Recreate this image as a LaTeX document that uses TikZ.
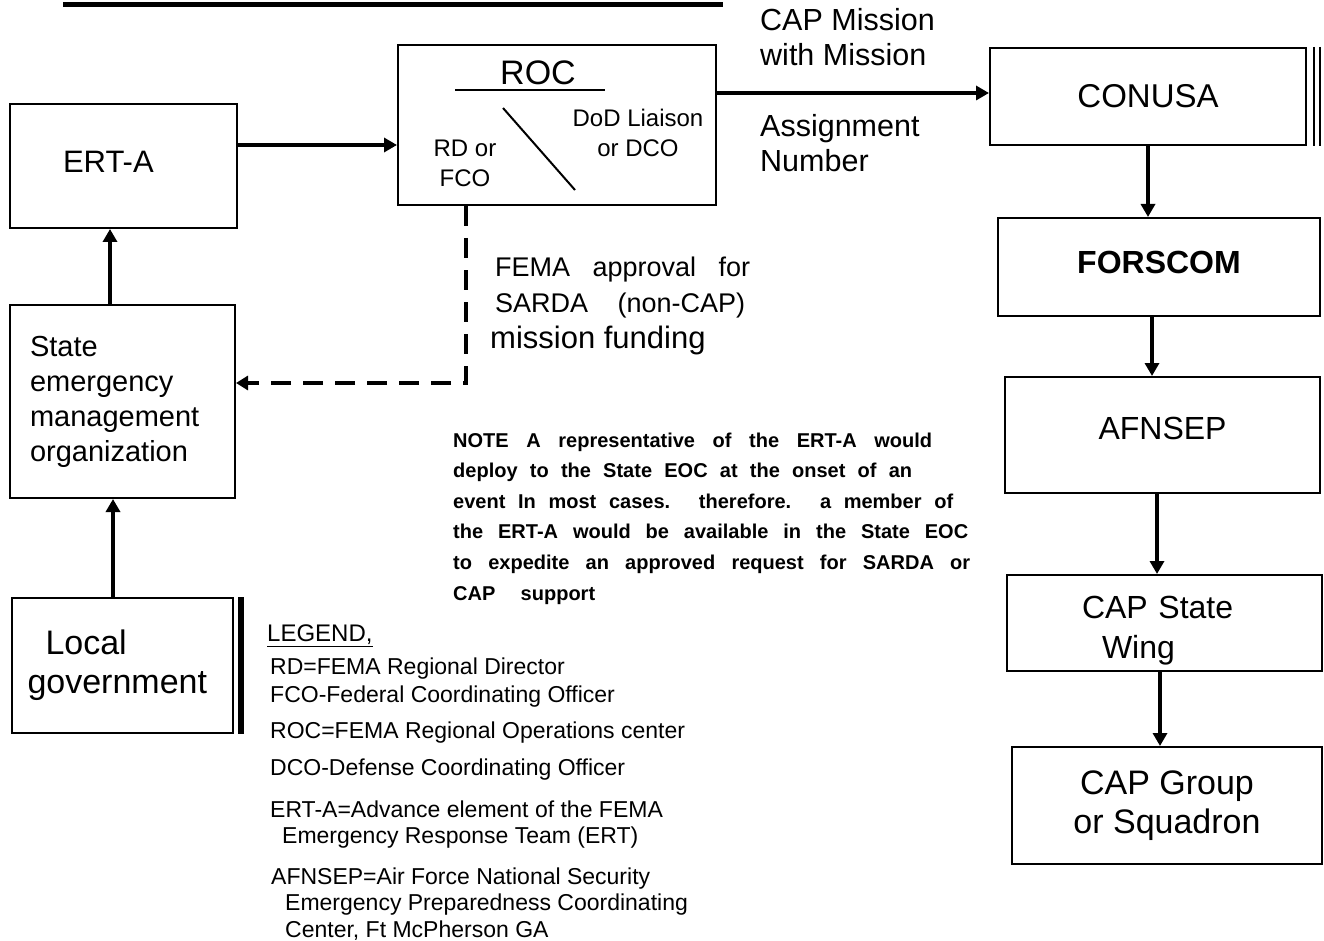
\documentclass[tikz,border=0pt]{standalone}
\usepackage{fontspec}
\setmainfont{Liberation Sans}
\usetikzlibrary{arrows.meta}

\newcommand{\setfs}[2]{\fontsize{#1}{#2}\selectfont}
\newcommand{\wideline}[2]{\makebox[#1][s]{#2}}

\tikzset{
  box/.style={draw, line width=2pt, inner sep=0pt, align=center},
  arr/.style={line width=4pt, -{Triangle[length=13pt,width=14pt]}},
  dasharr/.style={line width=3.5pt, dash pattern=on 20pt off 12pt, -{Triangle[length=12pt,width=14pt]}},
  lbl/.style={inner sep=0pt, align=left, anchor=west},
}

\begin{document}
\begin{tikzpicture}[x=1pt,y=-1pt]
  \useasboundingbox (0,0) rectangle (1324,941);

  % Top rule
  \draw[line width=5pt] (63,5) -- (723,5);

  % Left column
  \node[box, minimum width=227pt, minimum height=124pt, align=left, text width=121pt, text depth=8pt, font=\setfs{31}{37}] (erta) at (123.5,166) {ERT-A};
  \node[box, minimum width=225pt, minimum height=193pt, align=left, text width=185pt, font=\setfs{29}{35}] (state) at (122.5,401.5) {State\\emergency\\management\\organization};
  \node[box, minimum width=221pt, minimum height=135pt, align=left, text width=190pt, font=\setfs{34}{39}] (local) at (122.5,665.5) {\hspace*{18pt}Local\\government};
  \draw[line width=6pt] ([xshift=7pt]local.north east) -- ([xshift=7pt]local.south east);

  % ROC
  \node[box, minimum width=318pt, minimum height=160pt] (roc) at (557,125) {};
  \node[inner sep=0pt, font=\setfs{34}{40}] (roctitle) at (538,73) {ROC};
  \draw[line width=2pt] (455,90) -- (605,90);
  \draw[line width=2pt] (503,108) -- (575,190);
  \node[inner sep=0pt, align=center, font=\setfs{24}{30}] (rdfco) at (465,163) {RD or\\FCO};
  \node[inner sep=0pt, align=center, font=\setfs{24}{30}] (dod) at (638,133) {DoD Liaison\\or DCO};

  % Right column
  \node[box, minimum width=316pt, minimum height=97pt, font=\setfs{33}{38}] (conusa) at (1148,96.5) {CONUSA};
  \draw[line width=2pt] ([xshift=7pt]conusa.north east) -- ([xshift=7pt]conusa.south east);
  \draw[line width=2pt] ([xshift=13pt]conusa.north east) -- ([xshift=13pt]conusa.south east);
  \node[box, minimum width=322pt, minimum height=98pt, text depth=10pt, font=\setfs{32}{38}\bfseries] (forscom) at (1159,267) {FORSCOM};
  \node[box, minimum width=315pt, minimum height=116pt, text depth=14pt, font=\setfs{32}{38}] (afnsep) at (1162.5,435) {AFNSEP};
  \node[box, minimum width=315pt, minimum height=96pt, align=left, text width=165pt, font=\setfs{32}{40}] (wing) at (1164.5,623) {\rule{0pt}{38pt}CAP State\\\hspace*{20pt}Wing};
  \node[box, minimum width=310pt, minimum height=117pt, font=\setfs{34}{39}] (group) at (1167,805.5) {CAP Group\\or Squadron};

  % Connectors
  \draw[arr] ([yshift=21pt]erta.east) -- ([yshift=21pt]erta.east -| roc.west);
  \draw[arr] ([yshift=32pt]roc.east) -- ([yshift=32pt]roc.east -| conusa.west);
  \draw[arr] ([xshift=-12.5pt]state.north) -- ([xshift=-12.5pt]state.north |- erta.south);
  \draw[arr] ([xshift=-9.5pt]local.north) -- ([xshift=-9.5pt]local.north |- state.south);
  \draw[arr] (conusa.south) -- (conusa.south |- forscom.north);
  \draw[arr] ([xshift=-7pt]forscom.south) -- ([xshift=-7pt]forscom.south |- afnsep.north);
  \draw[arr] ([xshift=-5.5pt]afnsep.south) -- ([xshift=-5.5pt]afnsep.south |- wing.north);
  \draw[arr] ([xshift=-4.5pt]wing.south) -- ([xshift=-4.5pt]wing.south |- group.north);
  \draw[dasharr] ([xshift=-91pt]roc.south) |- ([yshift=18.5pt]state.east);

  % Connector labels
  \node[lbl, font=\setfs{30.5}{35}] (mission) at (760,37.5) {CAP Mission\\with Mission};
  \node[lbl, font=\setfs{30.5}{35}] (assign) at (760,143) {Assignment\\Number};
  \node[lbl, font=\setfs{27}{36}] (fema) at (490,306) {\hspace*{5pt}\wideline{255pt}{FEMA approval for}\\\hspace*{5pt}\wideline{250pt}{SARDA (non-CAP)}\\{\setfs{31}{36}mission funding}};

  % Note
  \node[lbl, font=\setfs{20}{30.6}\bfseries] (note) at (453,518.5) {\wideline{479pt}{NOTE A representative of the ERT-A would}\\\wideline{459pt}{deploy to the State EOC at the onset of an}\\\wideline{500pt}{event In most cases. therefore. a member of}\\\wideline{515pt}{the ERT-A would be available in the State EOC}\\\wideline{517pt}{to expedite an approved request for SARDA or}\\\wideline{142pt}{CAP support}};

  % Legend
  \node[lbl, font=\setfs{24}{28}] (legend) at (267,636) {\underline{LEGEND,}};
  \node[lbl, font=\setfs{23}{26}] (rddef) at (270,669) {RD=FEMA Regional Director};
  \node[lbl, font=\setfs{23}{26}] (fcodef) at (270,697) {FCO-Federal Coordinating Officer};
  \node[lbl, font=\setfs{23}{26}] (rocdef) at (270,733) {ROC=FEMA Regional Operations center};
  \node[lbl, font=\setfs{23}{26}] (dcodef) at (270,770) {DCO-Defense Coordinating Officer};
  \node[lbl, font=\setfs{23}{26}] (ertdef) at (270,825) {ERT-A=Advance element of the FEMA\\\hspace*{12pt}Emergency Response Team (ERT)};
  \node[lbl, font=\setfs{23}{26.5}] (afndef) at (271,904) {AFNSEP=Air Force National Security\\\hspace*{14pt}Emergency Preparedness Coordinating\\\hspace*{14pt}Center, Ft McPherson GA};
\end{tikzpicture}
\end{document}
